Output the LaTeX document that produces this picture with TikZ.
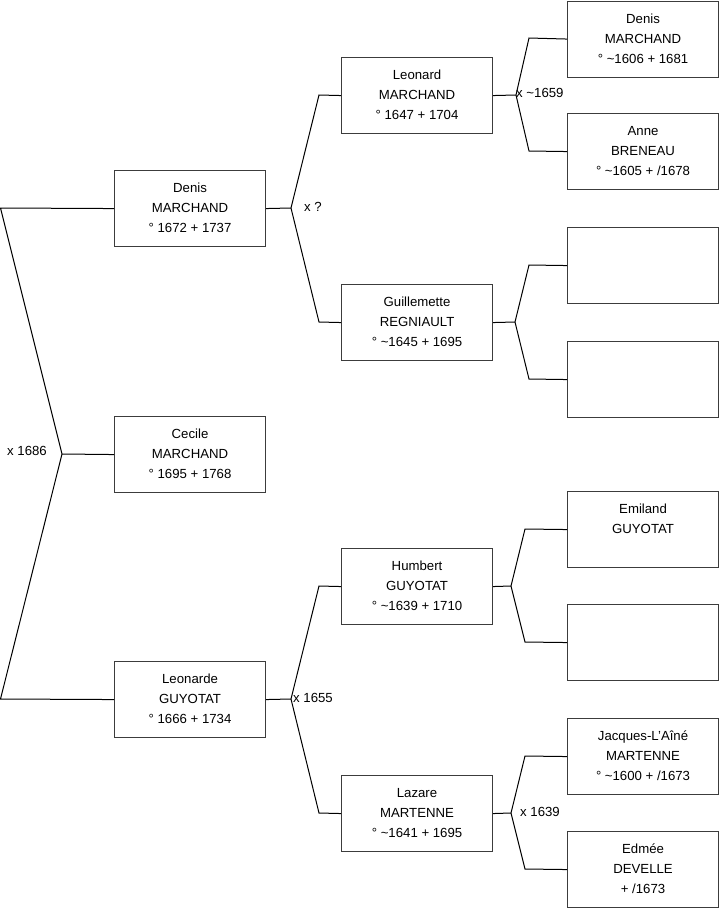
\documentclass[tikz,border=0pt]{standalone}
\usepackage{fontspec}
\setmainfont{Liberation Sans}
\usetikzlibrary{positioning}
\definecolor{boxline}{RGB}{60,60,60}

\tikzset{
  person/.style={draw=boxline,line width=1.1pt,minimum width=151pt,minimum height=76pt,anchor=north west,inner sep=0pt},
  ptext/.style={font=\fontsize{13.2}{20}\selectfont,align=center,inner sep=0pt,yshift=-13pt},
  link/.style={draw=black,line width=1pt},
  union/.style={font=\fontsize{13.2}{14}\selectfont,anchor=west,inner sep=0pt}
}

\begin{document}
\begin{tikzpicture}[x=1pt,y=-1pt]
\useasboundingbox (0,0) rectangle (719,908);
% generation 1
\node[person] (dm) at (114,170) {};
\node[person] (cm) at (114,416) {};
\node[person] (lg) at (114,661) {};
\node[ptext,below=0pt of dm.north] (dmt) {Denis\\MARCHAND\\° 1672 + 1737};
\node[ptext,below=0pt of cm.north] (cmt) {Cecile\\MARCHAND\\° 1695 + 1768};
\node[ptext,below=0pt of lg.north] (lgt) {Leonarde\\GUYOTAT\\° 1666 + 1734};
% generation 2
\node[person] (lm) at (341,57) {};
\node[person] (gr) at (341,284) {};
\node[person] (hg) at (341,548) {};
\node[person] (zm) at (341,775) {};
\node[ptext,below=0pt of lm.north] (lmt) {Leonard\\MARCHAND\\° 1647 + 1704};
\node[ptext,below=0pt of gr.north] (grt) {Guillemette\\REGNIAULT\\° \textasciitilde1645 + 1695};
\node[ptext,below=0pt of hg.north] (hgt) {Humbert\\GUYOTAT\\° \textasciitilde1639 + 1710};
\node[ptext,below=0pt of zm.north] (zmt) {Lazare\\MARTENNE\\° \textasciitilde1641 + 1695};
% generation 3
\node[person] (dm2) at (567,0.5) {};
\node[person] (ab) at (567,113) {};
\node[person] (e1) at (567,227) {};
\node[person] (e2) at (567,341) {};
\node[person] (eg) at (567,491) {};
\node[person] (e3) at (567,604) {};
\node[person] (jm) at (567,718) {};
\node[person] (ed) at (567,831) {};
\node[ptext,below=0pt of dm2.north] (dm2t) {Denis\\MARCHAND\\° \textasciitilde1606 + 1681};
\node[ptext,below=0pt of ab.north] (abt) {Anne\\BRENEAU\\° \textasciitilde1605 + /1678};
\node[ptext,below=0pt of eg.north] (egt) {Emiland\\GUYOTAT};
\node[ptext,below=0pt of jm.north] (jmt) {Jacques-L'Aîné\\MARTENNE\\° \textasciitilde1600 + /1673};
\node[ptext,below=0pt of ed.north] (edt) {Edmée\\DEVELLE\\+ /1673};

% brackets
\coordinate (vA) at (62,454);
\coordinate (tA) at (0.5,208);
\coordinate (bA) at (0.5,699);
\draw[link] (dm.west) -- (tA) -- (vA) -- (bA) -- (lg.west);
\draw[link] (vA) -- (cm.west);
\node[union] (uA) at (7,451) {x 1686};

\coordinate (vB) at (291,208);
\coordinate (tB) at (319,95);
\coordinate (bB) at (319,322);
\draw[link] (dm.east) -- (vB);
\draw[link] (lm.west) -- (tB) -- (vB) -- (bB) -- (gr.west);
\node[union] (uB) at (304,207) {x ?};

\coordinate (vC) at (291,699);
\coordinate (tC) at (319,586);
\coordinate (bC) at (319,813);
\draw[link] (lg.east) -- (vC);
\draw[link] (hg.west) -- (tC) -- (vC) -- (bC) -- (zm.west);
\node[union] (uC) at (293,698) {x 1655};

\coordinate (vD) at (516,95);
\coordinate (tD) at (529,38);
\coordinate (bD) at (529,151);
\draw[link] (lm.east) -- (vD);
\draw[link] (dm2.west) -- (tD) -- (vD) -- (bD) -- (ab.west);
\node[union] (uD) at (516,93) {x \textasciitilde1659};

\coordinate (vE) at (515,322);
\coordinate (tE) at (529,265);
\coordinate (bE) at (529,379);
\draw[link] (gr.east) -- (vE);
\draw[link] (e1.west) -- (tE) -- (vE) -- (bE) -- (e2.west);

\coordinate (vF) at (511,586);
\coordinate (tF) at (525,529);
\coordinate (bF) at (525,642);
\draw[link] (hg.east) -- (vF);
\draw[link] (eg.west) -- (tF) -- (vF) -- (bF) -- (e3.west);

\coordinate (vG) at (511,813);
\coordinate (tG) at (525,756);
\coordinate (bG) at (525,869);
\draw[link] (zm.east) -- (vG);
\draw[link] (jm.west) -- (tG) -- (vG) -- (bG) -- (ed.west);
\node[union] (uG) at (520,812) {x 1639};
\end{tikzpicture}
\end{document}
